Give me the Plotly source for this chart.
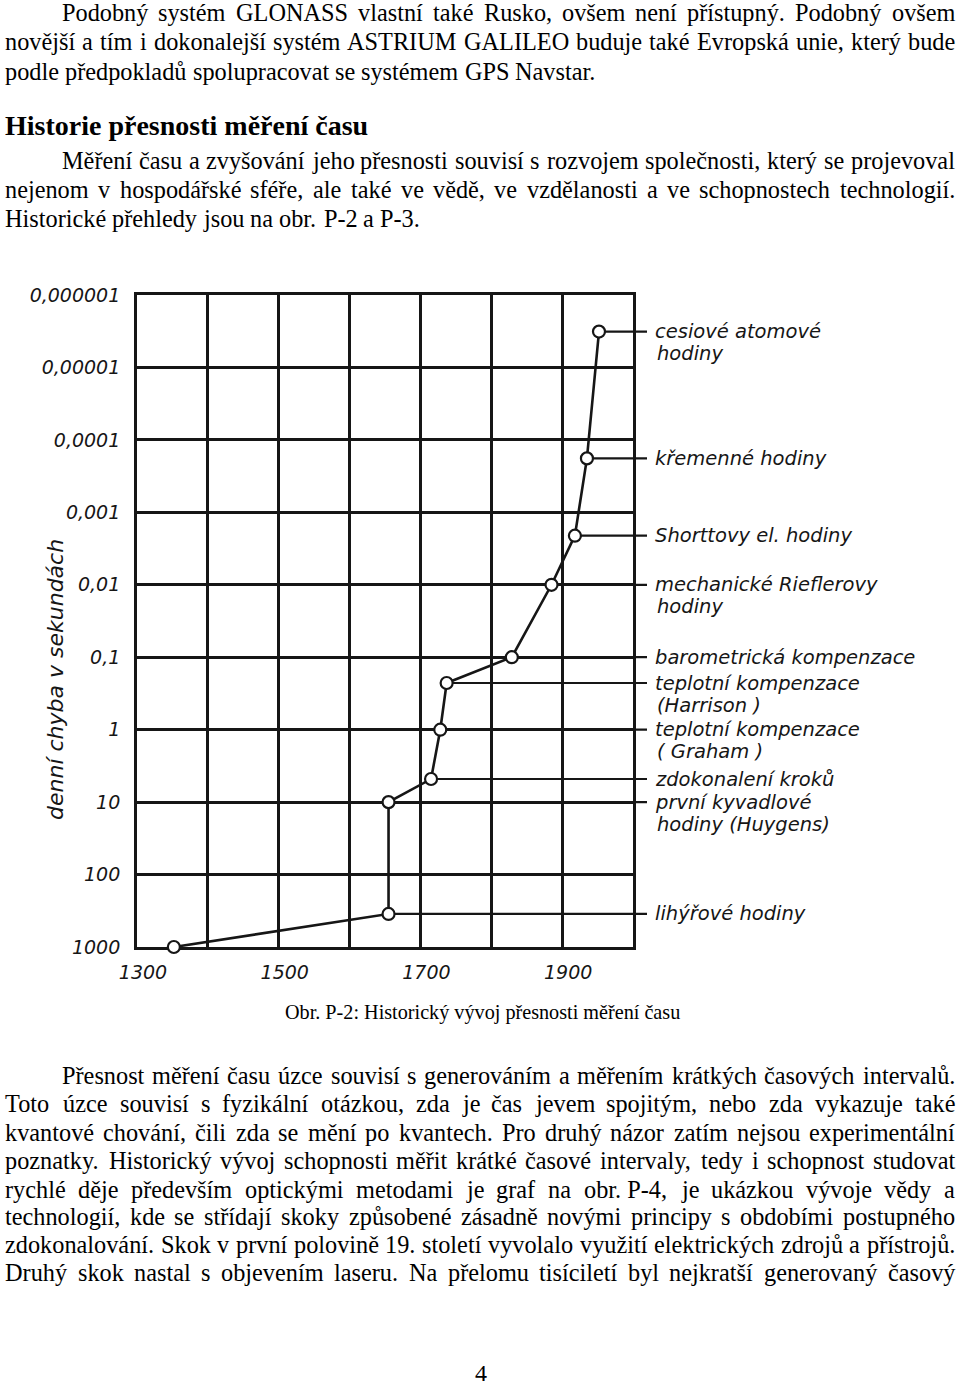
import math
import unicodedata
import plotly.graph_objects as go

W, H = 960, 1385

# ------------------------------------------------------------------ chart data
years = [1352, 1655, 1655, 1715, 1728, 1737, 1829, 1885, 1918, 1935, 1952]
errors = [1000, 350, 10, 4.8, 1.0, 0.227, 0.1, 0.01, 0.0021, 0.00018, 0.0000032]

# index of the point each label belongs to, and the label text lines
label_point = [1, 2, 3, 4, 5, 6, 7, 8, 9, 10]
labels = [
    ["lihýřové hodiny"],
    ["první kyvadlové", "hodiny (Huygens)"],
    ["zdokonalení kroků"],
    ["teplotní kompenzace", "( Graham )"],
    ["teplotní kompenzace", "(Harrison )"],
    ["barometrická kompenzace"],
    ["mechanické Rieflerovy", "hodiny"],
    ["Shorttovy el. hodiny"],
    ["křemenné hodiny"],
    ["cesiové atomové", "hodiny"],
]

x_ticks = [1300, 1400, 1500, 1600, 1700, 1800, 1900, 2000]
x_ticktext = ["1300", "", "1500", "", "1700", "", "1900", ""]
y_ticks = [0.000001, 0.00001, 0.0001, 0.001, 0.01, 0.1, 1, 10, 100, 1000]
y_ticktext = ["0,000001", "0,00001", "0,0001", "0,001", "0,01", "0,1",
              "1", "10", "100", "1000"]
y_title = "denní chyba v sekundách"

# ------------------------------------------------------------------ page text
para1 = [
    "Podobný systém GLONASS vlastní také Rusko, ovšem není přístupný. Podobný ovšem",
    "novější a tím i dokonalejší systém ASTRIUM GALILEO buduje také Evropská unie, který bude",
    "podle předpokladů spolupracovat se systémem GPS Navstar.",
]
heading = "Historie přesnosti měření času"
para2 = [
    "Měření času a zvyšování jeho přesnosti souvisí s rozvojem společnosti, který se projevoval",
    "nejenom v hospodářské sféře, ale také ve vědě, ve vzdělanosti a ve schopnostech technologií.",
    "Historické přehledy jsou na obr. P-2 a P-3.",
]
caption = "Obr. P-2: Historický vývoj přesnosti měření času"
para3 = [
    "Přesnost měření času úzce souvisí s generováním a měřením krátkých časových intervalů.",
    "Toto úzce souvisí s fyzikální otázkou, zda je čas jevem spojitým, nebo zda vykazuje také",
    "kvantové chování, čili zda se mění po kvantech. Pro druhý názor zatím nejsou experimentální",
    "poznatky. Historický vývoj schopnosti měřit krátké časové intervaly, tedy i schopnost studovat",
    "rychlé děje především optickými metodami je graf na obr.\u00a0P-4, je ukázkou vývoje vědy a",
    "technologií, kde se střídají skoky způsobené zásadně novými principy s obdobími postupného",
    "zdokonalování. Skok v první polovině 19. století vyvolalo využití elektrických zdrojů a přístrojů.",
    "Druhý skok nastal s objevením laseru. Na přelomu tisíciletí byl nejkratší generovaný časový",
]
page_number = "4"

# ------------------------------------------------------------------ layout constants (px)
PL, PR, PT, PB = 137, 633, 295, 947     # plot frame
LEAD_END = 647                          # end of label leader lines
X0, X1 = 1300, 2000
X2_MAX = X0 + (LEAD_END - PL) / (PR - PL) * (X1 - X0)

BODY = 24.3
SERIF = "Liberation Serif"
HAND = "DejaVu Sans"
INK = "#161616"
LABEL_SIZE = 19.5
LABEL_LINE = 22

TIMES = {' ': 250, '\u00a0': 250, ',': 250, '.': 250, '-': 333, ':': 278, ';': 278,
         '(': 333, ')': 333, '/': 278,
         'A': 722, 'B': 667, 'C': 667, 'D': 722, 'E': 611, 'F': 556, 'G': 722, 'H': 722,
         'I': 333, 'J': 389, 'K': 722, 'L': 611, 'M': 889, 'N': 722, 'O': 722, 'P': 556,
         'Q': 722, 'R': 667, 'S': 556, 'T': 611, 'U': 722, 'V': 722, 'W': 944, 'X': 722,
         'Y': 722, 'Z': 611,
         'a': 444, 'b': 500, 'c': 444, 'd': 500, 'e': 444, 'f': 333, 'g': 500, 'h': 500,
         'i': 278, 'j': 278, 'k': 500, 'l': 278, 'm': 778, 'n': 500, 'o': 500, 'p': 500,
         'q': 500, 'r': 333, 's': 389, 't': 278, 'u': 500, 'v': 500, 'w': 722, 'x': 500,
         'y': 500, 'z': 444}
for d in "0123456789":
    TIMES[d] = 500


def tw(s, size):
    tot = 0
    for ch in s:
        base = unicodedata.normalize("NFD", ch)[0]
        tot += TIMES.get(base, 500)
    return tot * size / 1000.0


def px(x):
    return x / W


def py(y):
    return 1 - y / H


annotations = []


def word_ann(text, x, y, size=BODY, bold=False):
    annotations.append(dict(
        x=px(x), y=py(y), xref="paper", yref="paper", xanchor="left", yanchor="middle",
        text=text, showarrow=False, borderpad=0, borderwidth=0,
        font=dict(family=SERIF, size=size, color="black", weight="bold" if bold else "normal")))


def justified(line, x0, x1, y, justify=True):
    words = line.split(" ")
    widths = [tw(w, BODY) for w in words]
    natural_gap = tw(" ", BODY)
    if justify and len(words) > 1:
        gap = (x1 - x0 - sum(widths)) / (len(words) - 1)
        gap = max(gap, 3)
    else:
        gap = natural_gap
    x = x0
    for w, wd in zip(words, widths):
        word_ann(w, x, y)
        x += wd + gap


def paragraph(lines, ys, last_justified=False):
    for k, (line, y) in enumerate(zip(lines, ys)):
        x0 = 62 if k == 0 else 5
        just = (k < len(lines) - 1) or last_justified
        justified(line, x0, 955, y, just)


paragraph(para1, [12, 42, 72])
word_ann(heading, 5, 126, size=28, bold=True)
paragraph(para2, [161, 190, 218])
paragraph(para3, [1075, 1103, 1132, 1160, 1189, 1216, 1244, 1272], last_justified=True)

annotations.append(dict(x=px(482), y=py(1013), xref="paper", yref="paper",
                        xanchor="center", yanchor="middle", text=caption, showarrow=False,
                        font=dict(family=SERIF, size=20.2, color="black")))
annotations.append(dict(x=px(481), y=py(1373), xref="paper", yref="paper",
                        xanchor="center", yanchor="middle", text=page_number, showarrow=False,
                        font=dict(family=SERIF, size=24, color="black")))

# y axis title (hand lettered)
annotations.append(dict(x=px(55), y=py(680), xref="paper", yref="paper",
                        xanchor="center", yanchor="middle", text=y_title, textangle=-90,
                        showarrow=False,
                        font=dict(family=HAND, size=22, style="italic", color=INK)))

# point labels
for k, i in enumerate(label_point):
    for j, t in enumerate(labels[k]):
        annotations.append(dict(
            x=X2_MAX, y=math.log10(errors[i]), xref="x2", yref="y2",
            xanchor="left", yanchor="middle", xshift=6 + (2 if j else 0),
            yshift=-LABEL_LINE * j,
            text=t, showarrow=False,
            font=dict(family=HAND, size=LABEL_SIZE, style="italic", color=INK)))

# ------------------------------------------------------------------ traces
fig = go.Figure()

fig.add_trace(go.Scatter(x=[None], y=[None], xaxis="x", yaxis="y",
                         showlegend=False, hoverinfo="skip"))

lead_x, lead_y = [], []
for i in label_point:
    lead_x += [years[i], X2_MAX, None]
    lead_y += [errors[i], errors[i], None]
fig.add_trace(go.Scatter(x=lead_x, y=lead_y, xaxis="x2", yaxis="y2", mode="lines",
                         line=dict(color=INK, width=2.2), showlegend=False, hoverinfo="skip"))

fig.add_trace(go.Scatter(x=years, y=errors, xaxis="x2", yaxis="y2", mode="lines",
                         line=dict(color=INK, width=2.6), showlegend=False))
fig.add_trace(go.Scatter(x=years, y=errors, xaxis="x2", yaxis="y2", mode="markers",
                         cliponaxis=False,
                         marker=dict(symbol="circle", size=12, color="white",
                                     line=dict(color=INK, width=2.2)),
                         showlegend=False))

x_dom = [PL / W, PR / W]
y_dom = [1 - PB / H, 1 - PT / H]

fig.update_layout(
    width=W, height=H,
    margin=dict(l=0, r=0, t=0, b=0, pad=0, autoexpand=False),
    paper_bgcolor="white", plot_bgcolor="rgba(0,0,0,0)",
    showlegend=False,
    annotations=annotations,
    xaxis=dict(domain=x_dom, range=[X0, X1], anchor="y", automargin=False,
               tickvals=x_ticks, ticktext=x_ticktext,
               showgrid=True, gridcolor=INK, gridwidth=2.6,
               showline=True, mirror=True, linecolor=INK, linewidth=2.8,
               zeroline=False, ticks="", ticklabelstandoff=6, ticklabelshift=6,
               tickfont=dict(family=HAND, size=19, style="italic", color=INK),
               fixedrange=True),
    yaxis=dict(domain=y_dom, type="log", range=[3, -6], anchor="x", automargin=False,
               tickvals=y_ticks, ticktext=y_ticktext,
               showgrid=True, gridcolor=INK, gridwidth=2.6,
               showline=True, mirror=True, linecolor=INK, linewidth=2.8,
               zeroline=False, ticks="", ticklabelstandoff=10,
               tickfont=dict(family=HAND, size=19, style="italic", color=INK),
               fixedrange=True),
    xaxis2=dict(domain=[PL / W, LEAD_END / W], range=[X0, X2_MAX], anchor="y2",
                automargin=False,
                visible=False, showgrid=False, zeroline=False, fixedrange=True),
    yaxis2=dict(domain=y_dom, type="log", range=[3, -6], anchor="x2", automargin=False,
                visible=False, showgrid=False, zeroline=False, fixedrange=True),
)

fig.write_html("out.html")
